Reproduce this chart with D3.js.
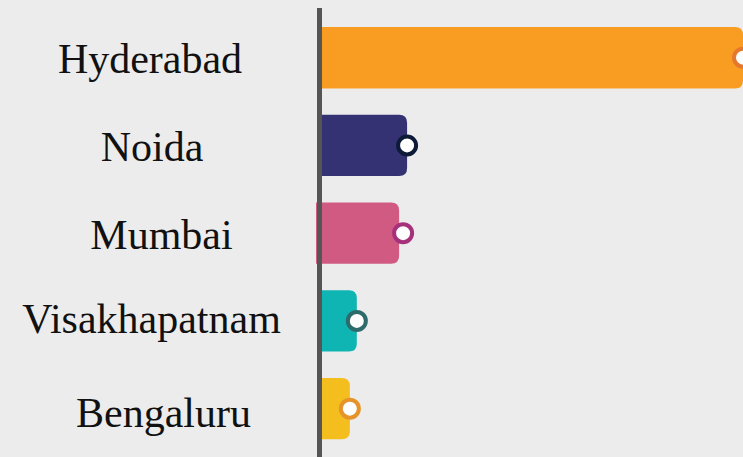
<!DOCTYPE html>
<meta charset="utf-8">
<title>cities</title>
<style>
body { margin: 0; background: #ececec; }
svg { display: block; }
</style>
<svg></svg>
<script src="https://d3js.org/d3.v7.min.js"></script>
<script>
var cities = ["Hyderabad", "Noida", "Mumbai", "Visakhapatnam", "Bengaluru"];
var values = [85, 17.5, 16.7, 7.4, 6];
var barColors = ["#f99d22", "#343272", "#d15a82", "#0fb5b3", "#f4be1e"];
var dotColors = ["#e5782c", "#0d1b38", "#a6317b", "#2e6b6b", "#e6942a"];

var width = 743, height = 457;

var svg = d3.select("svg")
  .attr("width", width)
  .attr("height", height);

svg.append("rect")
  .attr("width", width)
  .attr("height", height)
  .attr("fill", "#ececec");

var x = d3.scaleLinear()
  .domain([0, d3.max(values)])
  .range([320, 743]);

var y = d3.scaleBand()
  .domain(cities)
  .range([13.8, 452.5])
  .paddingInner(0.3)
  .paddingOuter(0.15);

var r = 8;
// small hand nudges to match the original layout (style only)
var barShift = [0, 0, -4, 0, 0];
var labelDx = [0, 2, 11.5, 1.5, 13.5];
var labelDy = [0, 0.5, 0, -3.5, 2.5];

// bar with rounded right end
function barPath(v, c, s) {
  var x0 = x(0) + s, x1 = x(v) + s, y0 = y(c), h = y.bandwidth();
  var rr = Math.min(r, (x1 - x0) / 2);
  return "M" + x0 + "," + y0 +
    "H" + (x1 - rr) +
    "Q" + x1 + "," + y0 + " " + x1 + "," + (y0 + rr) +
    "V" + (y0 + h - rr) +
    "Q" + x1 + "," + (y0 + h) + " " + (x1 - rr) + "," + (y0 + h) +
    "H" + x0 + "Z";
}

svg.append("g")
  .selectAll("path")
  .data(cities)
  .enter()
  .append("path")
  .attr("d", (c, i) => barPath(values[i], c, barShift[i]))
  .attr("fill", (c, i) => barColors[i]);

svg.append("g")
  .selectAll("circle")
  .data(cities)
  .enter()
  .append("circle")
  .attr("cx", (c, i) => x(values[i]))
  .attr("cy", c => y(c) + y.bandwidth() / 2)
  .attr("r", 9)
  .attr("fill", "white")
  .attr("stroke", (c, i) => dotColors[i])
  .attr("stroke-width", 4);

// labels
svg.append("g")
  .attr("font-family", "'Liberation Serif', 'Times New Roman', serif")
  .attr("font-size", 42)
  .attr("text-anchor", "middle")
  .attr("fill", "#111")
  .selectAll("text")
  .data(cities)
  .enter()
  .append("text")
  .attr("x", (c, i) => 150 + labelDx[i])
  .attr("y", (c, i) => y(c) + y.bandwidth() / 2 + 15.5 + labelDy[i])
  .text(c => c);

// axis line
svg.append("line")
  .attr("x1", x(0) - 0.5)
  .attr("x2", x(0) - 0.5)
  .attr("y1", 8)
  .attr("y2", height)
  .attr("stroke", "#555")
  .attr("stroke-width", 5);
</script>
